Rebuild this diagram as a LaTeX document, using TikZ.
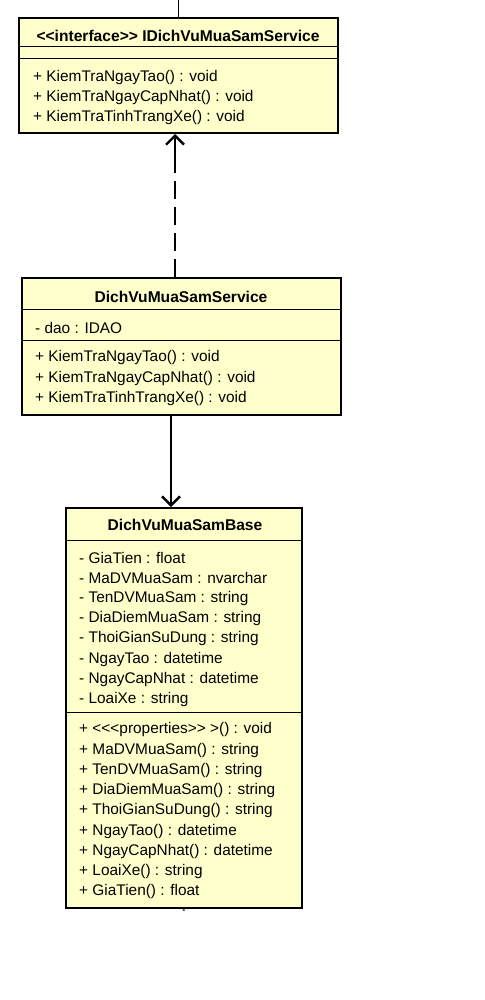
\documentclass[tikz,border=0pt]{standalone}
\usepackage{fontspec}
\setmainfont{Liberation Sans}
\usetikzlibrary{arrows.meta}
\definecolor{umlfill}{RGB}{255,255,204}
\tikzset{
  x=1pt,y=-1pt,
  classbox/.style={draw=black,line width=2.6pt,fill=umlfill},
  sepline/.style={draw=black,line width=1pt},
  member/.style={anchor=west,inner sep=0pt,font=\fontsize{15.4}{16}\selectfont},
  title/.style={anchor=center,inner sep=0pt,font=\fontsize{15.6}{16}\selectfont\bfseries},
  conn/.style={line width=2.4pt,-{Straight Barb[length=9pt,width=18pt,line width=2.4pt]}},
}
\begin{document}
\begin{tikzpicture}
\useasboundingbox[fill=white] (0,0) rectangle (484,1000);
% Box 1
\draw[classbox] (19,18) rectangle (338,133);
\coordinate (b1top) at (175,134);
\coordinate (b1mid) at (175,156);
\draw[sepline] (19,47) -- (338,47);
\draw[sepline] (19,59) -- (338,59);
\node[title] (t1) at (178,35.5) {{<}{<}interface{>}{>} IDichVuMuaSamService};
\node[member] (m11) at (33,78) {+ KiemTraNgayTao() : void};
\node[member] (m12) at (33,98) {+ KiemTraNgayCapNhat() : void};
\node[member] (m13) at (33,118) {+ KiemTraTinhTrangXe() : void};
\coordinate (stub) at (178,0);
\coordinate (stubend) at (178,17);
\draw[line width=1pt] (stub) -- (stubend);
% Box 2
\draw[classbox] (22,278) rectangle (341,415);
\draw[sepline] (22,309) -- (341,309);
\draw[sepline] (22,340) -- (341,340);
\node[title] (t2) at (181,296.5) {DichVuMuaSamService};
\node[member] (a21) at (35,328) {- dao : IDAO};
\node[member] (m21) at (35,358) {+ KiemTraNgayTao() : void};
\node[member] (m22) at (35,379) {+ KiemTraNgayCapNhat() : void};
\node[member] (m23) at (35,399) {+ KiemTraTinhTrangXe() : void};
\coordinate (b2top) at (175,277);
\coordinate (b2bot) at (171,416);
% Box 3
\draw[classbox] (66,508) rectangle (302,908);
\draw[sepline] (66,540) -- (302,540);
\draw[sepline] (66,712) -- (302,712);
\node[title] (t3) at (185,525) {DichVuMuaSamBase};
\foreach \t [count=\i from 0] in {- GiaTien : float,- MaDVMuaSam : nvarchar,- TenDVMuaSam : string,- DiaDiemMuaSam : string,- ThoiGianSuDung : string,- NgayTao : datetime,- NgayCapNhat : datetime,- LoaiXe : string}
  \node[member] (a3\i) at (79,558+20.25*\i) {\t};
\foreach \t [count=\i from 0] in {+ {<}{<}{<}properties{>}{>} {>}() : void,+ MaDVMuaSam() : string,+ TenDVMuaSam() : string,+ DiaDiemMuaSam() : string,+ ThoiGianSuDung() : string,+ NgayTao() : datetime,+ NgayCapNhat() : datetime,+ LoaiXe() : string,+ GiaTien() : float}
  \node[member] (m3\i) at (79,730+20.25*\i) {\t};
\coordinate (b3top) at (171,507);
\node[inner sep=0pt,font=\fontsize{8}{8}\selectfont] (star) at (184,912) {*};
% connectors
\draw[line width=2.4pt,dash pattern=on 18pt off 8pt] (b2top) -- (b1mid);
\draw[conn] (b1mid) -- (b1top);
\draw[conn,line width=2.2pt] (b2bot) -- (b3top);
\end{tikzpicture}
\end{document}
